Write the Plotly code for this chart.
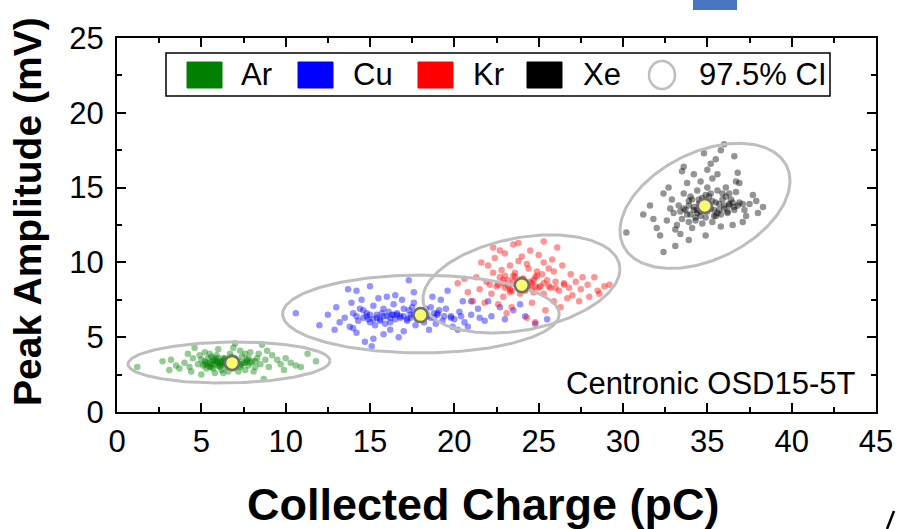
import numpy as np
import plotly.graph_objects as go

# ---------------- data ----------------
species = ["Ar", "Cu", "Kr", "Xe"]
colors = ["#008000", "#0000FF", "#FF0000", "#000000"]

ar_x = [1.2,3.2,3.7,3.1,4.6,7.0,8.6,8.7,11.3,10.6, 9.5,5.0,4.0,4.3,4.5,4.8,4.9,5.1,5.2,5.3,
        5.4,5.5,5.6,5.7,5.8,5.9,6.0,6.1,6.2,6.3, 6.4,6.5,6.6,6.7,6.8,6.9,7.0,7.1,7.2,7.3,
        7.4,7.5,7.6,7.7,7.8,7.9,8.0,8.2,8.3,8.5, 8.8,9.0,9.2,9.7,10.0,10.3,10.9,11.8,5.5,6.0,
        6.3,5.8,7.3,4.4,5.2,6.6,5.0,5.6,6.2,6.8, 7.6,8.1,8.9,9.9,4.2,3.5,2.7,5.9,6.4,7.0,
        6.0,5.4,7.8,6.9,8.4,6.6,5.7,7.2,6.1,
        5.3,5.6,5.9,6.2,6.5,6.8,7.1,7.4,7.7,5.5, 5.8,6.1,6.4,6.7,7.0,7.3,7.6,6.0,6.3,6.9,
        5.2,7.9,8.2,6.6,5.7]
ar_y = [3.0,3.5,2.9,2.8,4.3,4.6,4.5,2.2,3.9,3.1, 3.5,2.5,3.3,3.0,3.6,3.2,3.8,3.1,3.4,2.9,
        3.6,3.3,3.0,3.5,3.2,3.8,3.1,3.4,2.8,3.6, 3.2,3.0,3.5,3.9,3.3,2.9,3.6,3.2,3.4,3.0,
        3.7,3.3,2.8,3.5,3.1,4.0,3.4,3.0,3.6,3.2, 3.5,3.0,3.8,3.2,3.6,3.3,3.0,3.4,3.9,4.2,
        2.6,2.6,4.1,2.7,4.0,2.7,3.5,3.7,3.2,3.7, 3.9,2.7,4.1,2.8,3.9,3.1,3.4,3.4,3.5,3.0,
        3.6,3.1,3.6,4.3,3.9,3.1,2.9,2.7,3.0,
        3.3,3.2,3.4,3.3,3.2,3.4,3.3,3.2,3.4,3.0, 3.6,3.1,3.6,3.0,3.5,3.1,3.3,3.3,3.4,3.1,
        3.2,3.3,3.4,3.3,3.4]

cu_x = [10.6,13.7,17.3,14.2,15.1,15.2,14.2,25.5,24.2,22.7, 21.0,20.5,21.5,19.9,18.7,17.6,16.0,13.2,13.8,16.2,
        12.5,13.0,13.5,14.0,14.3,14.6,14.8,15.0,15.2,15.4, 15.6,15.8,16.0,16.2,16.4,16.6,16.8,17.0,17.2,17.4,
        17.6,17.8,18.0,18.2,18.4,18.6,18.8,19.0,19.3,19.5, 19.8,20.0,20.3,20.6,21.0,21.4,21.8,22.2,23.0,23.5,
        14.5,15.5,16.5,17.0,15.8,18.5,19.2,20.2,14.0,16.9, 15.3,17.7,18.9,13.9,12.0,12.9,22.0,24.8,23.9,19.6,
        15.0,16.7,14.7,20.8,16.1,17.3,18.3,15.7,14.9,16.5, 17.9,19.1,15.9,17.5,14.4,18.1,16.3,
        14.2,14.6,15.0,15.4,15.8,16.2,16.6,17.0,17.4,17.8, 18.2,18.6,19.0,19.4,14.8,15.6,16.4,17.2,18.0,18.8,
        15.2,16.8,17.6,19.8,20.4]
cu_y = [6.6,8.2,8.8,8.1,4.4,4.9,5.3,6.2,6.4,7.0, 7.4,7.4,6.3,5.7,7.7,8.0,7.7,6.0,5.7,5.5,
        6.5,7.0,6.3,6.6,6.1,6.8,6.4,6.0,7.1,6.5, 6.2,6.9,6.4,6.0,7.2,6.6,6.3,6.9,6.1,6.5,
        7.3,6.2,6.7,6.0,6.4,7.0,6.3,6.6,6.1,6.9, 6.4,6.2,6.7,6.0,6.5,6.9,6.1,6.4,6.2,6.8,
        7.5,7.6,7.8,5.4,5.2,5.5,7.5,5.5,5.6,7.5, 5.8,5.8,5.9,7.3,5.8,5.5,7.4,5.9,7.2,8.1,
        8.4,5.0,4.7,5.7,6.7,6.8,6.9,6.6,6.2,6.2, 6.5,6.8,5.9,7.0,6.9,6.2,6.5,
        6.4,6.3,6.5,6.3,6.4,6.3,6.5,6.4,6.3,6.5, 6.4,6.3,6.5,6.4,6.6,6.1,6.5,6.2,6.3,6.6,
        6.2,6.4,6.6,6.3,6.4]

kr_x = [20.2,20.8,22.3,23.5,25.3,26.1,28.3,28.9,28.0,27.0, 24.8,24.3,21.1,21.8,23.3,25.3,22.3,21.5,21.9,22.2,
        22.5,22.7,22.9,23.0,23.2,23.4,23.6,23.7,23.9,24.1, 24.2,24.4,24.6,24.7,24.9,25.1,25.3,25.5,25.7,25.9,
        26.2,26.5,26.8,27.2,27.5,27.9,28.5,22.4,23.0,23.8, 24.5,24.0,25.0,25.8,26.4,22.0,22.8,23.5,24.3,25.6,
        26.9,21.3,20.6,22.6,23.4,24.6,25.9,26.3,23.1,25.4, 22.1,23.3,24.8,26.0,27.6,29.2,23.8,22.7,24.9,23.9,
        24.5,22.9,25.2,26.7,21.6,27.4,28.6,
        22.6,22.9,23.2,23.5,23.8,24.1,24.4,24.7,25.0,25.3, 23.0,23.6,24.2,24.8,23.3,24.0,24.6,25.6,26.0,26.5]
kr_y = [8.6,8.0,11.0,11.2,11.4,11.0,9.0,8.4,7.7,7.8, 6.0,6.3,7.4,7.3,9.8,10.0,9.3,8.2,8.7,7.9,
        8.4,9.0,7.7,8.3,8.8,8.1,9.3,8.5,7.9,8.9, 8.2,9.6,8.6,8.0,9.1,8.4,7.9,8.8,8.3,9.4,
        8.1,8.6,8.3,8.7,8.2,8.5,8.1,10.3,10.6,10.1, 10.8,10.4,10.5,10.2,9.8,9.8,9.5,9.1,9.9,9.6,
        9.2,9.0,8.9,7.2,7.0,7.3,7.4,7.0,6.6,6.8, 8.5,8.0,8.4,8.7,9.0,8.5,11.3,10.8,9.4,8.6,
        8.7,8.6,9.2,7.6,10.0,7.4,7.9,
        8.5,8.8,8.4,8.7,8.3,8.6,8.4,8.8,8.3,8.6, 9.1,9.0,8.1,9.0,8.2,8.9,8.2,8.4,8.3,8.5]

xe_x = [30.2,31.2,32.4,33.1,33.9,35.8,36.0,36.6,35.2,33.5, 33.6,38.3,37.9,37.1,35.8,32.4,31.6,32.0,33.1,34.6,
        36.7,37.7,33.0,33.3,33.5,33.7,33.9,34.0,34.2,34.3, 34.5,34.6,34.8,34.9,35.1,35.2,35.4,35.5,35.7,35.9,
        36.0,36.2,36.4,36.6,36.9,37.2,37.5,32.6,32.8,33.2, 34.1,34.4,34.7,35.0,35.3,35.6,36.1,36.3,34.2,35.0,
        35.5,34.8,36.8,33.8,32.9,31.8,32.2,33.4,34.9,36.5, 37.3,38.0,35.3,36.7,33.6,34.4,35.8,35.1,34.0,36.3,
        34.6,33.9,36.9,35.6,32.7,
        33.6,33.9,34.2,34.5,34.8,35.1,35.4,35.7,36.0,36.3, 36.6,33.8,34.1,34.4,34.7,35.0,35.3,35.6,35.9,36.2,
        36.5,34.3,34.9,35.5,36.1,33.4,36.8,37.1,34.6,35.2]
xe_y = [12.0,13.2,10.7,11.1,11.5,17.5,17.9,17.1,16.6,16.1, 16.4,13.7,14.1,12.7,12.4,14.6,13.8,12.3,12.2,15.4,
        15.4,14.5,13.3,13.8,12.9,13.5,14.1,13.2,13.7,12.8, 14.2,13.4,13.9,13.0,14.4,13.6,13.1,14.0,13.5,14.6,
        13.8,13.3,14.2,13.7,14.0,13.5,13.9,12.8,13.6,12.5, 12.3,14.8,12.6,15.0,15.6,14.8,15.0,14.6,15.9,16.2,
        16.9,17.3,16.0,15.3,14.2,12.9,11.8,11.9,11.8,12.5, 13.1,13.3,12.7,14.7,14.6,13.5,13.2,13.8,14.4,13.9,
        14.0,12.7,15.3,15.9,15.0,
        13.6,13.8,13.5,13.9,13.6,13.8,13.5,13.9,13.6,13.8, 13.5,13.2,14.2,13.3,14.3,13.4,14.1,13.3,14.2,13.4,
        14.0,13.0,14.5,13.1,14.4,13.4,13.8,13.9,13.1,14.6]

centroid_x = [6.82, 18.0, 24.0, 34.85]
centroid_y = [3.28, 6.48, 8.47, 13.77]

# 97.5% confidence ellipses: centre, half extents along x / y, correlation
ell_cx = [6.64, 18.02, 23.98, 34.86]
ell_cy = [3.31, 6.55, 8.56, 13.78]
ell_rx = [5.99, 8.20, 5.84, 5.04]
ell_ry = [1.37, 2.60, 3.28, 4.18]
ell_rho = [0.08, 0.0, 0.30, 0.40]

x_ticks = [0, 5, 10, 15, 20, 25, 30, 35, 40, 45]
y_ticks = [0, 5, 10, 15, 20, 25]
ci_label = "97.5% CI"
instrument = "Centronic OSD15-5T"

# ---------------- figure ----------------
FONT = "Liberation Sans, Arial, sans-serif"
L, R, T, B = 117, 876, 38, 412
W, H = 897, 529

def px(x):
    return (x - L) / (R - L)

def py(y):
    return (B - y) / (B - T)

fig = go.Figure()
clouds = [(ar_x, ar_y), (cu_x, cu_y), (kr_x, kr_y), (xe_x, xe_y)]
for name, col, (xs, ys) in zip(species, colors, clouds):
    fig.add_trace(go.Scatter(x=xs, y=ys, mode="markers", name=name,
                             marker=dict(color=col, size=6.5, opacity=0.42, line=dict(width=0)),
                             showlegend=False, hoverinfo="skip"))

t = np.linspace(0, 2 * np.pi, 241)
for cx, cy, rx, ry, rho in zip(ell_cx, ell_cy, ell_rx, ell_ry, ell_rho):
    ex = cx + rx * np.cos(t)
    ey = cy + ry * (rho * np.cos(t) + np.sqrt(1 - rho ** 2) * np.sin(t))
    fig.add_trace(go.Scatter(x=ex, y=ey, mode="lines", line=dict(color="#BEBEBE", width=3),
                             showlegend=False, hoverinfo="skip"))

fig.add_trace(go.Scatter(x=centroid_x, y=centroid_y, mode="markers",
                         marker=dict(color="#FAFA6E", size=14, line=dict(color="#6E6E6E", width=2.5)),
                         showlegend=False, hoverinfo="skip"))

axis_common = dict(showgrid=False, zeroline=False, showline=True, linecolor="black", linewidth=2,
                   mirror="allticks", ticks="inside", ticklen=9, tickwidth=2, tickcolor="black",
                   automargin=False, tickfont=dict(family=FONT, size=31, color="black"))
fig.update_xaxes(range=[0, 45], tickvals=x_ticks, ticktext=[str(v) for v in x_ticks],
                 minor=dict(ticks="inside", ticklen=5, tickwidth=2, tickcolor="black", dtick=2.5, tick0=0),
                 ticklabelstandoff=1, **axis_common)
fig.update_yaxes(range=[0, 25], tickvals=y_ticks, ticktext=[str(v) for v in y_ticks],
                 minor=dict(ticks="inside", ticklen=5, tickwidth=2, tickcolor="black", dtick=2.5, tick0=0),
                 ticklabelstandoff=5, **axis_common)

shapes = []
annotations = []
# legend box
shapes.append(dict(type="rect", xref="paper", yref="paper", x0=px(166), x1=px(830), y0=py(96), y1=py(53),
                   line=dict(color="black", width=1.5), fillcolor="white", layer="above"))
sq_x = [187, 298, 418, 527]
txt_x = [239, 351, 471, 581]
for name, col, sx, tx in zip(species, colors, sq_x, txt_x):
    shapes.append(dict(type="rect", xref="paper", yref="paper", x0=px(sx), x1=px(sx + 35),
                       y0=py(88), y1=py(62), line=dict(color=col, width=1), fillcolor=col, layer="above"))
    annotations.append(dict(text=name, xref="paper", yref="paper", x=px(tx), y=py(75),
                            xanchor="left", yanchor="middle", showarrow=False,
                            font=dict(family=FONT, size=31, color="black")))
shapes.append(dict(type="circle", xref="paper", yref="paper", x0=px(649), x1=px(675), y0=py(89), y1=py(61),
                   line=dict(color="#BEBEBE", width=2.5), layer="above"))
annotations.append(dict(text=ci_label, xref="paper", yref="paper", x=px(697), y=py(75),
                        xanchor="left", yanchor="middle", showarrow=False,
                        font=dict(family=FONT, size=31, color="black")))
annotations.append(dict(text=instrument, xref="paper", yref="paper", x=px(858), y=py(383),
                        xanchor="right", yanchor="middle", showarrow=False,
                        font=dict(family=FONT, size=31, color="black")))
# axis titles
annotations.append(dict(text="<b>Collected Charge (pC)</b>", xref="paper", yref="paper",
                        x=px(483), y=py(504), xanchor="center", yanchor="middle", showarrow=False,
                        font=dict(family=FONT, size=45, color="black")))
annotations.append(dict(text="<b>Peak Amplitude (mV)</b>", xref="paper", yref="paper",
                        x=px(27), y=py(212), xanchor="center", yanchor="middle", showarrow=False,
                        textangle=-90, font=dict(family=FONT, size=39, color="black")))
# stray bits of the source image
shapes.append(dict(type="rect", xref="paper", yref="paper", x0=px(693), x1=px(737), y0=py(10), y1=py(0),
                   line=dict(width=0), fillcolor="#4677C0", layer="above"))
shapes.append(dict(type="line", xref="paper", yref="paper", x0=px(887), x1=px(894), y0=py(529), y1=py(511),
                   line=dict(color="black", width=2.5), layer="above"))

fig.update_layout(width=W, height=H, margin=dict(l=L, r=W - R, t=T, b=H - B, pad=0, autoexpand=False),
                  plot_bgcolor="white", paper_bgcolor="white", showlegend=False,
                  shapes=shapes, annotations=annotations)
fig.write_html("out.html", config={"displayModeBar": False},
               post_script="document.body.style.margin='0';document.body.style.padding='0';")
